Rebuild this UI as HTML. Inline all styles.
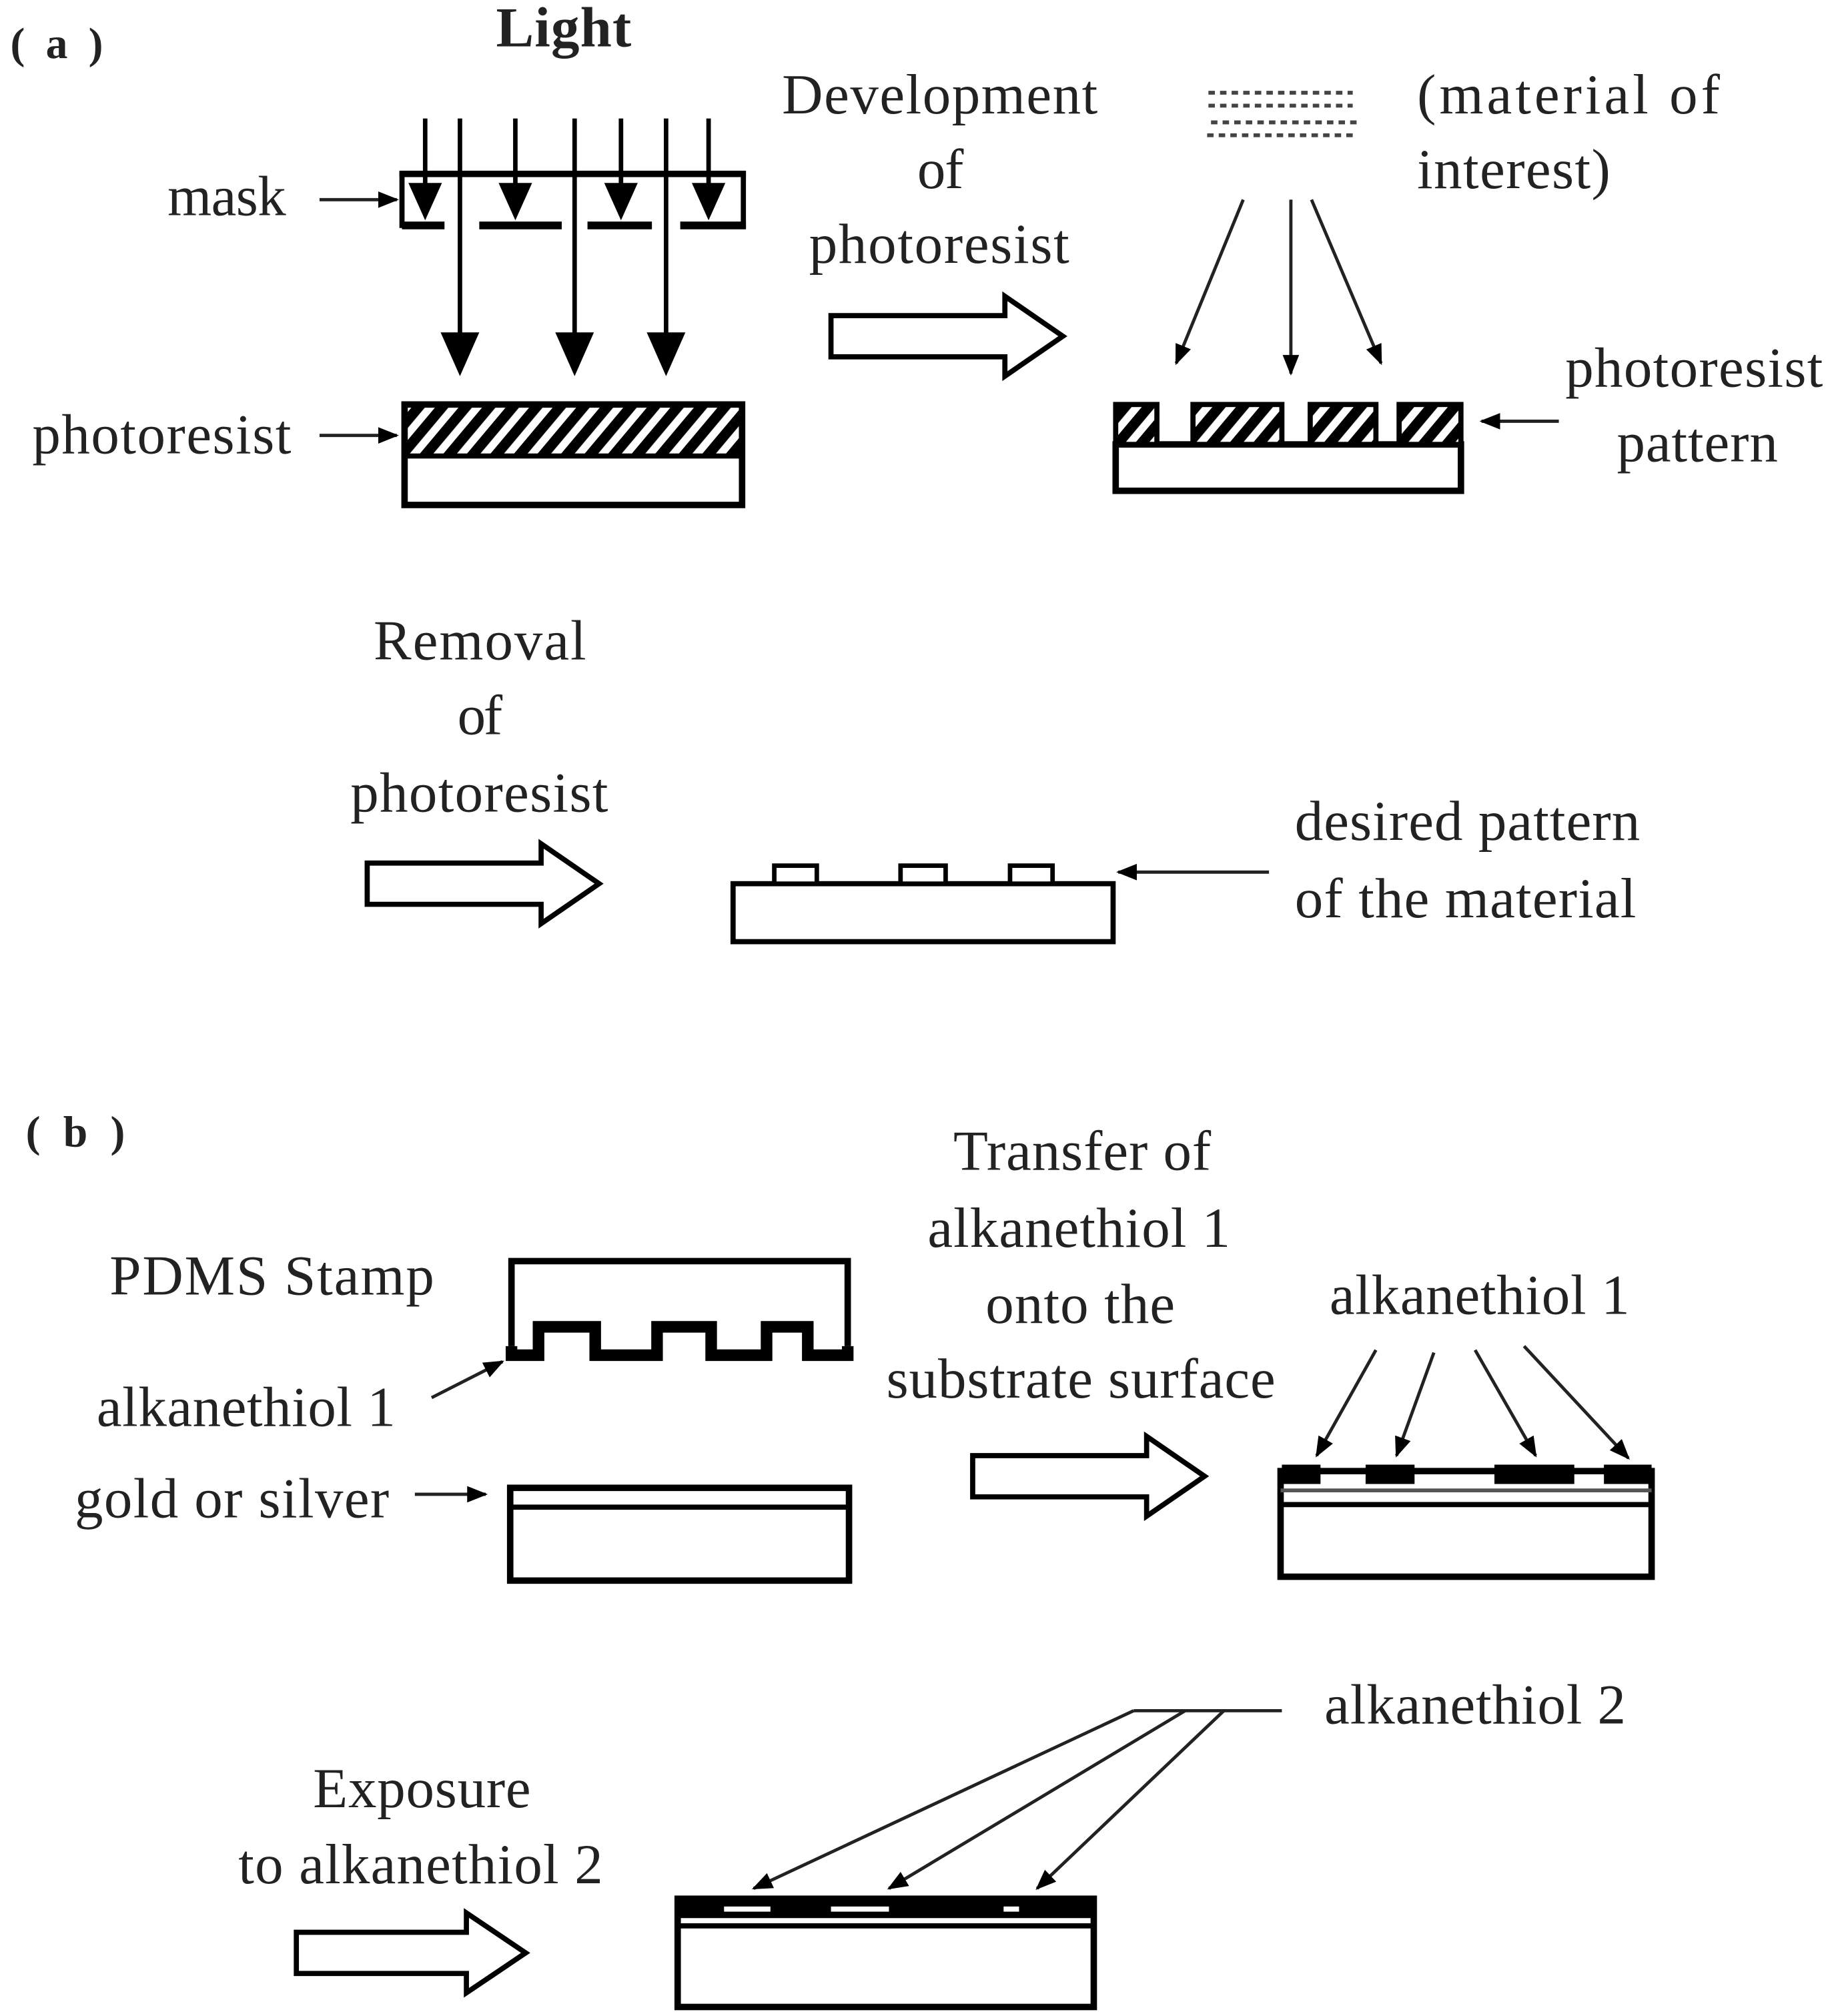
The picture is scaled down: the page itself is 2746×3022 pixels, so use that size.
<!DOCTYPE html>
<html><head><meta charset="utf-8"><style>html,body{margin:0;padding:0;background:#fff}svg{display:block}</style></head>
<body>
<svg width="2746" height="3022" viewBox="0 0 1422 1565" xmlns="http://www.w3.org/2000/svg">
<defs>
<marker id="ahs" viewBox="0 0 10 10" refX="9" refY="5" markerWidth="16" markerHeight="16" orient="auto" markerUnits="userSpaceOnUse"><path d="M0,1 L10,5 L0,9 z" fill="#000"/></marker>
<pattern id="hatch" width="14" height="14" patternUnits="userSpaceOnUse" patternTransform="rotate(40)"><rect width="14" height="14" fill="#fff"/><rect width="8" height="14" fill="#000"/></pattern>
</defs>
<g font-family="Liberation Serif, serif" font-size="44" fill="#222" lengthAdjust="spacingAndGlyphs">
<text x="8" y="45" font-weight="bold" font-size="34" textLength="72">( a )</text>
<text x="385" y="36" font-weight="bold" textLength="105">Light</text>
<text x="130" y="167" textLength="92">mask</text>
<text x="25" y="352" textLength="201">photoresist</text>
<text x="607" y="88" textLength="245">Development</text>
<text x="712" y="146" textLength="36">of</text>
<text x="628" y="204" textLength="202">photoresist</text>
<text x="1100" y="88" textLength="235">(material   of</text>
<text x="1100" y="146" textLength="150">interest)</text>
<text x="1215" y="300" textLength="200">photoresist</text>
<text x="1255" y="358" textLength="125">pattern</text>
<text x="290" y="512" textLength="165">Removal</text>
<text x="355" y="570" textLength="35">of</text>
<text x="272" y="630" textLength="200">photoresist</text>
<text x="1005" y="652" textLength="268">desired pattern</text>
<text x="1005" y="712" textLength="265">of the material</text>
<text x="20" y="890" font-weight="bold" font-size="34" textLength="77">( b )</text>
<text x="740" y="908" textLength="200">Transfer of</text>
<text x="720" y="968" textLength="235">alkanethiol 1</text>
<text x="765" y="1027" textLength="147">onto the</text>
<text x="688" y="1085" textLength="302">substrate surface</text>
<text x="85" y="1005" textLength="252">PDMS Stamp</text>
<text x="75" y="1107" textLength="232">alkanethiol 1</text>
<text x="58" y="1178" textLength="244">gold or silver</text>
<text x="1032" y="1020" textLength="233">alkanethiol 1</text>
<text x="1028" y="1338" textLength="234">alkanethiol 2</text>
<text x="243" y="1403" textLength="169">Exposure</text>
<text x="185" y="1462" textLength="283">to alkanethiol 2</text>
</g>
<g stroke="#000" fill="none">
<line x1="310" y1="135" x2="579" y2="135" stroke-width="5"/>
<line x1="312" y1="133" x2="312" y2="177" stroke-width="4"/>
<line x1="577" y1="133" x2="577" y2="177" stroke-width="4"/>
<g stroke-width="6"><line x1="312" y1="175" x2="345" y2="175"/><line x1="372" y1="175" x2="436" y2="175"/><line x1="456" y1="175" x2="506" y2="175"/><line x1="528" y1="175" x2="579" y2="175"/></g>
<g stroke-width="3.5">
<line x1="330" y1="92" x2="330" y2="150"/><line x1="400" y1="92" x2="400" y2="150"/><line x1="482" y1="92" x2="482" y2="150"/><line x1="550" y1="92" x2="550" y2="150"/>
<line x1="357" y1="92" x2="357" y2="265"/><line x1="446" y1="92" x2="446" y2="265"/><line x1="517" y1="92" x2="517" y2="265"/>
</g>
</g>
<g fill="#000">
<path d="M317,142 L343,142 L330,171 z"/><path d="M387,142 L413,142 L400,171 z"/><path d="M469,142 L495,142 L482,171 z"/><path d="M537,142 L563,142 L550,171 z"/>
<path d="M342,258 L372,258 L357,292 z"/><path d="M431,258 L461,258 L446,292 z"/><path d="M502,258 L532,258 L517,292 z"/>
</g>
<g stroke="#222" stroke-width="2.5" fill="none">
<line x1="248" y1="155" x2="308" y2="155" marker-end="url(#ahs)"/>
<line x1="248" y1="338" x2="308" y2="338" marker-end="url(#ahs)"/>
<line x1="965" y1="155" x2="913" y2="282" marker-end="url(#ahs)"/>
<line x1="1002" y1="155" x2="1002" y2="290" marker-end="url(#ahs)"/>
<line x1="1018" y1="155" x2="1072" y2="282" marker-end="url(#ahs)"/>
<line x1="1210" y1="327" x2="1150" y2="327" marker-end="url(#ahs)"/>
<line x1="985" y1="677" x2="868" y2="677" marker-end="url(#ahs)"/>
<line x1="335" y1="1085" x2="390" y2="1057" marker-end="url(#ahs)"/>
<line x1="322" y1="1160" x2="377" y2="1160" marker-end="url(#ahs)"/>
<line x1="1068" y1="1048" x2="1022" y2="1130" marker-end="url(#ahs)"/>
<line x1="1113" y1="1050" x2="1084" y2="1130" marker-end="url(#ahs)"/>
<line x1="1145" y1="1048" x2="1192" y2="1130" marker-end="url(#ahs)"/>
<line x1="1183" y1="1045" x2="1264" y2="1132" marker-end="url(#ahs)"/>
<line x1="995" y1="1328" x2="880" y2="1328"/>
<line x1="880" y1="1328" x2="585" y2="1466" marker-end="url(#ahs)"/>
<line x1="920" y1="1328" x2="690" y2="1466" marker-end="url(#ahs)"/>
<line x1="950" y1="1328" x2="805" y2="1466" marker-end="url(#ahs)"/>
</g>
<rect x="314" y="314" width="262" height="40" fill="url(#hatch)"/>
<rect x="314" y="314" width="262" height="78" fill="none" stroke="#000" stroke-width="5"/>
<line x1="314" y1="354" x2="576" y2="354" stroke="#000" stroke-width="4"/>
<g fill="#fff" stroke="#000" stroke-width="4">
<path d="M645,245 L780,245 L780,230 L825,261 L780,292 L780,277 L645,277 z"/>
<path d="M285,670 L420,670 L420,655 L465,686 L420,717 L420,702 L285,702 z"/>
<path d="M755,1130 L890,1130 L890,1115 L935,1146 L890,1177 L890,1162 L755,1162 z"/>
<path d="M230,1500 L362,1500 L362,1485 L408,1516 L362,1547 L362,1532 L230,1532 z"/>
</g>
<g stroke="#444" stroke-width="3" stroke-dasharray="5,4">
<line x1="938" y1="72" x2="1050" y2="72"/><line x1="938" y1="82" x2="1050" y2="82"/><line x1="940" y1="95" x2="1053" y2="95"/><line x1="937" y1="105" x2="1050" y2="105"/>
</g>
<rect x="866" y="345" width="268" height="36" fill="#fff" stroke="#000" stroke-width="5"/>
<g fill="url(#hatch)" stroke="#000" stroke-width="4">
<rect x="866" y="314" width="32" height="31"/><rect x="926" y="314" width="69" height="31"/><rect x="1017" y="314" width="51" height="31"/><rect x="1086" y="314" width="48" height="31"/>
</g>
<rect x="569" y="686" width="295" height="45" fill="#fff" stroke="#000" stroke-width="4"/>
<g fill="#fff" stroke="#000" stroke-width="3.5"><rect x="601" y="672" width="33" height="14"/><rect x="699" y="672" width="35" height="14"/><rect x="784" y="672" width="33" height="14"/></g>
<path d="M397,1045 L397,979 L658,979 L658,1045" fill="none" stroke="#000" stroke-width="5"/>
<path d="M397,1045 L397,1052 L418,1052 L418,1030 L462,1030 L462,1052 L510,1052 L510,1030 L552,1030 L552,1052 L595,1052 L595,1030 L627,1030 L627,1052 L658,1052 L658,1045" fill="none" stroke="#000" stroke-width="9"/>
<rect x="396" y="1155" width="263" height="72" fill="#fff" stroke="#000" stroke-width="5"/>
<line x1="396" y1="1170" x2="659" y2="1170" stroke="#000" stroke-width="4"/>
<rect x="994" y="1142" width="288" height="82" fill="#fff" stroke="#000" stroke-width="5"/>
<line x1="994" y1="1157" x2="1282" y2="1157" stroke="#555" stroke-width="3"/>
<line x1="994" y1="1168" x2="1282" y2="1168" stroke="#000" stroke-width="4"/>
<g fill="#000"><rect x="995" y="1137" width="30" height="15"/><rect x="1060" y="1137" width="38" height="15"/><rect x="1160" y="1137" width="62" height="15"/><rect x="1245" y="1137" width="37" height="15"/></g>
<rect x="526" y="1474" width="323" height="84" fill="#fff" stroke="#000" stroke-width="5"/>
<rect x="526" y="1473" width="323" height="16" fill="#000"/>
<g fill="#fff"><rect x="562" y="1480" width="36" height="4"/><rect x="645" y="1480" width="45" height="4"/><rect x="779" y="1480" width="12" height="4"/></g>
<line x1="526" y1="1495" x2="849" y2="1495" stroke="#000" stroke-width="4"/>
</svg>
</body></html>
